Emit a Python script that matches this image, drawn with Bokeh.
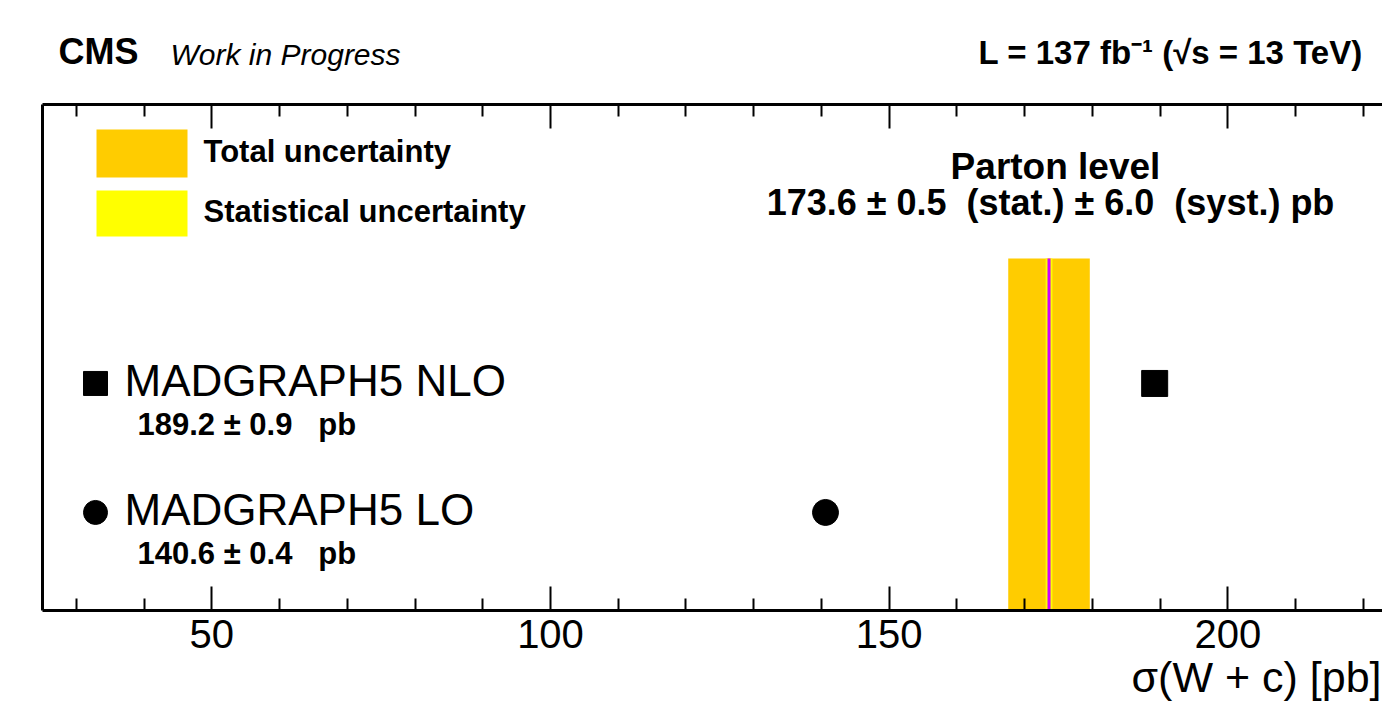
from bokeh.plotting import figure
from bokeh.models import Range1d, LinearAxis, FixedTicker, Label, Title
from bokeh.layouts import column
from bokeh.embed import file_html
from bokeh.resources import INLINE

# ---------------- data ----------------
model_names = ["MADGRAPH5 NLO", "MADGRAPH5 LO"]
model_values = [189.2, 140.6]
model_errors = [0.9, 0.4]
model_markers = ["square", "circle"]
model_rows = [2, 1]
meas_value = 173.6
meas_stat = 0.5
meas_syst = 6.0
major_ticks = [50, 100, 150, 200]
minor_ticks = [30, 40, 60, 70, 80, 90, 110, 120, 130, 140, 160, 170, 180, 190, 210, 220]
legend_labels = ["Total uncertainty", "Statistical uncertainty"]
header_left = ["CMS", "Work in Progress"]
header_right = "L = 137 fb\u207b\u00b9 (\u221as = 13 TeV)"
x_title = "\u03c3(W + c) [pb]"

# ---------------- layout (page pixels) ----------------
W = 1382
HEAD_H = 96
MAIN_H = 712 - HEAD_H
FR_L, FR_T, FR_B = 42, 104, 610
X0 = 25.0
PPU = 1016.0 / 150.0
X1 = X0 + (W - FR_L) / PPU
Y0 = 0.24
YPPU = 129.0
Y1 = Y0 + (FR_B - FR_T) / YPPU
BASE_SHIFT = 0.38   # Bokeh's alphabetic baseline sits this many em lower

def dx(px):
    return X0 + (px - FR_L) / PPU

def dy(py):
    return Y0 + (FR_B - py) / YPPU

FONT = "Liberation Sans"
C_TOTAL = "#ffcc00"
C_STAT = "#ffff00"
C_LINE = "#cc00ff"
NB = "\u00a0"

def lab(fig, x, y, text, size, style="normal", align="left", ppu=YPPU):
    y = y + BASE_SHIFT * size / ppu
    fig.add_layout(Label(x=x, y=y, text=text, text_font=FONT, text_font_size=f"{size}px",
                         text_font_style=style, text_align=align, text_baseline="alphabetic",
                         text_color="black"))

# ---------------- header ----------------
head = figure(width=W, height=HEAD_H, output_backend="svg", toolbar_location=None,
              x_range=Range1d(X0, X1), y_range=Range1d(HEAD_H, 0),
              x_axis_location=None, y_axis_location=None,
              min_border_left=FR_L, min_border_right=0, min_border_top=0, min_border_bottom=0)
head.outline_line_color = None
head.xgrid.visible = False
head.ygrid.visible = False
# header y axis runs downward in page pixels, so the shift is negative
lab(head, dx(58), 65, header_left[0], 36, "bold", ppu=-1)
lab(head, dx(170), 65, header_left[1], 30, "italic", ppu=-1)
lab(head, dx(978), 65, header_right, 33, "bold", ppu=-1)

# ---------------- main ----------------
p = figure(width=W, height=MAIN_H, output_backend="svg", toolbar_location=None,
           x_range=Range1d(X0, X1), y_range=Range1d(Y0, Y1),
           min_border_left=FR_L, min_border_top=FR_T - HEAD_H,
           min_border_bottom=MAIN_H - (FR_B - HEAD_H), min_border_right=0)
p.outline_line_color = None
p.xgrid.visible = False
p.ygrid.visible = False

ax = p.xaxis[0]
ax.ticker = FixedTicker(ticks=major_ticks, minor_ticks=minor_ticks)
ax.axis_line_width = 3
ax.major_tick_in = 24
ax.major_tick_out = 0
ax.minor_tick_in = 12
ax.minor_tick_out = 0
ax.major_tick_line_width = 2
ax.minor_tick_line_width = 2
ax.major_label_text_font = FONT
ax.major_label_text_font_size = "40px"
ax.major_label_text_color = "black"
ax.major_label_standoff = 9

top = LinearAxis(ticker=FixedTicker(ticks=major_ticks, minor_ticks=minor_ticks),
                 axis_line_width=3, major_tick_in=24, major_tick_out=0,
                 minor_tick_in=12, minor_tick_out=0,
                 major_tick_line_width=2, minor_tick_line_width=2,
                 major_label_overrides={t: "" for t in major_ticks},
                 major_label_standoff=0)
p.add_layout(top, "above")

ay = p.yaxis[0]
ay.ticker = FixedTicker(ticks=[])
ay.axis_line_width = 3
ay.major_tick_line_color = None
ay.minor_tick_line_color = None

p.add_layout(Title(text=x_title, align="right", offset=1, standoff=0,
                   text_font=FONT, text_font_size="43px", text_font_style="normal",
                   text_color="black"), "below")

# measurement bands
total = (meas_stat ** 2 + meas_syst ** 2) ** 0.5
band_top = dy(258)
p.quad(left=[meas_value - total], right=[meas_value + total], bottom=[Y0], top=[band_top],
       fill_color=C_TOTAL, line_color=None)
p.quad(left=[meas_value - meas_stat], right=[meas_value + meas_stat], bottom=[Y0], top=[band_top],
       fill_color=C_STAT, line_color=None)
p.segment(x0=[meas_value], y0=[Y0], x1=[meas_value], y1=[band_top], line_color=C_LINE, line_width=3)

# model predictions
p.scatter(x=model_values, y=model_rows, marker=model_markers, size=26,
          fill_color="black", line_color="black")

# legend boxes
p.quad(left=[dx(96)], right=[dx(187)], bottom=[dy(177)], top=[dy(129)],
       fill_color=C_TOTAL, line_color=None)
p.quad(left=[dx(96)], right=[dx(187)], bottom=[dy(236)], top=[dy(190)],
       fill_color=C_STAT, line_color=None)
lab(p, dx(203), dy(163), legend_labels[0], 31, "bold")
lab(p, dx(203), dy(223), legend_labels[1], 31, "bold")

# model legend entries
p.scatter(x=[dx(95)] * len(model_rows), y=model_rows, marker=model_markers, size=24,
          fill_color="black", line_color="black")
for name, val, err, row in zip(model_names, model_values, model_errors, model_rows):
    lab(p, dx(124), row - 14 / YPPU, name, 44)
    lab(p, dx(137), row - 53 / YPPU, f"{val:.1f} \u00b1 {err:.1f}{NB}{NB}{NB}pb", 31, "bold")

# measurement text
lab(p, dx(1055), dy(180), "Parton level", 37, "bold", "center")
lab(p, dx(1050), dy(216),
    f"{meas_value:.1f} \u00b1 {meas_stat:.1f}{NB}{NB}(stat.) \u00b1 {meas_syst:.1f}{NB}{NB}(syst.) pb",
    36, "bold", "center")

layout = column(head, p, spacing=0)
open("out.html", "w").write(file_html(layout, INLINE))
